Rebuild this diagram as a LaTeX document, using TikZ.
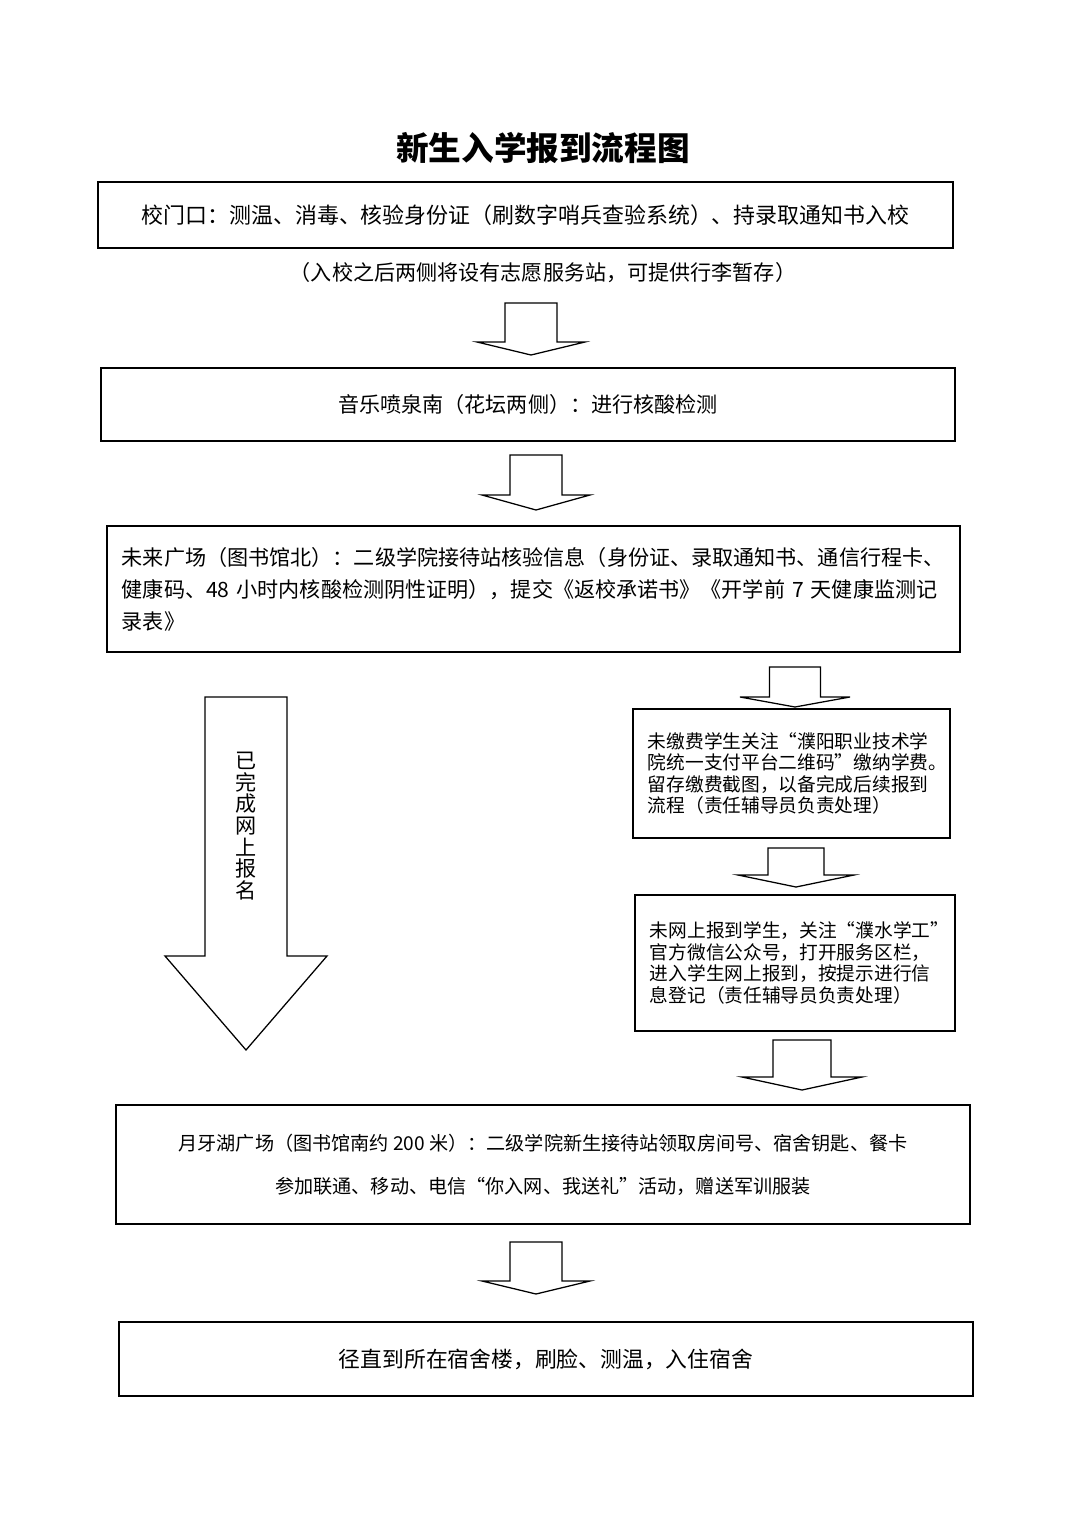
\documentclass[tikz,border=0pt]{standalone}
\usepackage{fontspec}
\setmainfont{Noto Sans CJK SC}
\usetikzlibrary{calc}
\newcommand\flowfont{\fontsize{15pt}{22.7pt}\selectfont}
\newcommand\sidefont{\fontsize{13.3pt}{15.3pt}\selectfont}
\tikzset{
	flowbox/.style={draw, line width=1pt, inner sep=0pt, align=center, font=\flowfont},
	sidebox/.style={draw, line width=1pt, inner xsep=0.375cm, inner ysep=0pt, align=left, font=\sidefont},
	blockarr/.style={draw, line width=0.9pt, fill=white, line join=miter}
}
\def\blockarrow(#1)(#2:#3:#4:#5){\draw[blockarr] ($(#1)+(-#4,0)$) -- ++(0,#2) -- ++({#4-#5},0) -- ++(#5,#3) -- ++(#5,-#3) -- ++({#4-#5},0) -- ++(0,-#2) -- cycle;}

\begin{document}
\begin{tikzpicture}[x=0.025cm, y=-0.025cm]
	%%%%% START %%%%%
	\useasboundingbox (0,0) rectangle (1080,1527);
	\fill[white] (0,0) rectangle (1080,1527);
	
	\node[font=\fontsize{23.2pt}{28pt}\selectfont\bfseries] (title) at (543,148) {新生入学报到流程图};
	
	\node[flowbox, font=\fontsize{15.6pt}{20pt}\selectfont, minimum width=21.375cm, minimum height=1.65cm] (gate) at (525.5,215) {校门口：测温、消毒、核验身份证（刷数字哨兵查验系统）、持录取通知书入校};
	\node[font=\flowfont] (luggage) at (543,273) {（入校之后两侧将设有志愿服务站，可提供行李暂存）};
	\blockarrow(531,303)(39:13:26:54)
	
	\node[flowbox, minimum width=21.35cm, minimum height=1.825cm] (fountain) at (528,404.5) {音乐喷泉南（花坛两侧）：进行核酸检测};
	\blockarrow(536,455)(40:15:26:54)
	
	\node[flowbox, align=left, inner xsep=0.375cm, text width=20.575cm, minimum height=3.15cm] (plaza) at (533.5,589) {未来广场（图书馆北）：二级学院接待站核验信息（身份证、录取通知书、通信行程卡、\\健康码、48 小时内核酸检测阴性证明），提交《返校承诺书》《开学前 7 天健康监测记\\录表》};
	
	% left: online done
	\blockarrow(246,697)(259:94:41:81)
	\node[font=\fontsize{15pt}{15.4pt}\selectfont, align=center, inner sep=0pt] (online) at (246,826) {已\\完\\成\\网\\上\\报\\名};
	
	% right: fee, then register
	\blockarrow(795,667)(30:10:25.5:55)
	\node[sidebox, text width=7.175cm, minimum height=3.225cm] (fee) at (791.5,773.5) {未缴费学生关注“濮阳职业技术学\\院统一支付平台二维码”缴纳学费。\\留存缴费截图，以备完成后续报到\\流程（责任辅导员负责处理）};
	\blockarrow(796,848)(27:12:28:58)
	\node[sidebox, text width=7.25cm, minimum height=3.4cm] (register) at (795,963) {未网上报到学生，关注“濮水学工”\\官方微信公众号，打开服务区栏，\\进入学生网上报到，按提示进行信\\息登记（责任辅导员负责处理）};
	\blockarrow(802,1040)(37:13:29:60)
	
	\node[flowbox, font=\fontsize{13.6pt}{30.6pt}\selectfont, minimum width=21.35cm, minimum height=2.975cm] (lake) at (543,1164.5) {月牙湖广场（图书馆南约 200 米）：二级学院新生接待站领取房间号、宿舍钥匙、餐卡\\参加联通、移动、电信“你入网、我送礼”活动，赠送军训服装};
	\blockarrow(536,1242)(39:13:26:54)
	
	\node[flowbox, font=\fontsize{15.5pt}{20pt}\selectfont, minimum width=21.35cm, minimum height=1.85cm] (dorm) at (546,1359) {径直到所在宿舍楼，刷脸、测温，入住宿舍};
	%%%%% END %%%%%
\end{tikzpicture}
\end{document}
